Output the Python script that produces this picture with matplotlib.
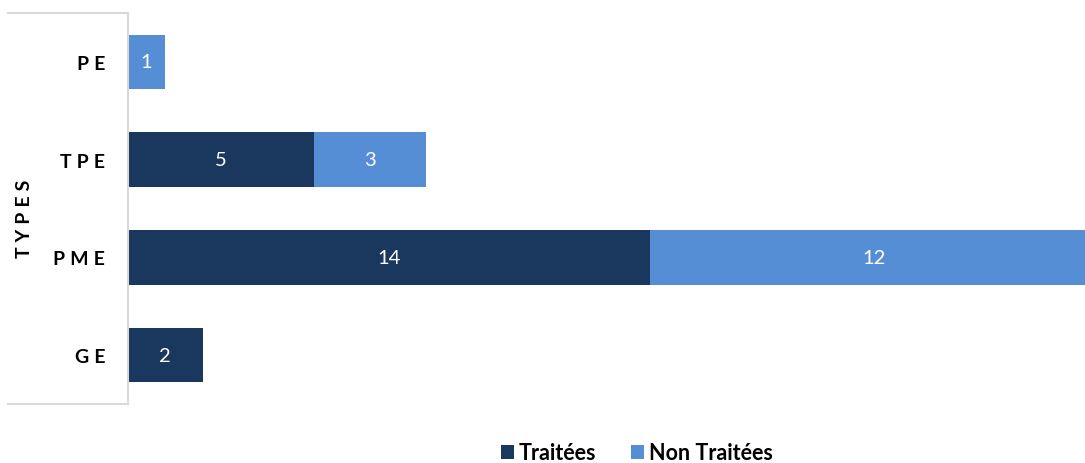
import matplotlib
matplotlib.use("Agg")
from matplotlib import pyplot as plt
from matplotlib.lines import Line2D
import numpy as np

plt.rcParams['font.family'] = ['Lato', 'DejaVu Sans']

# company types, top to bottom
types = ["PE", "TPE", "PME", "GE"]
traitees = [0, 5, 14, 2]
non_traitees = [1, 3, 12, 0]

DARK = '#1A375E'
LIGHT = '#558ED5'
GRID = '#D9D9D9'
SP = '\u2009'  # letter spacing for the category labels

fig = plt.figure(figsize=(10.85, 4.64), dpi=100)
ax = fig.add_axes([128 / 1085, 1 - 405 / 464, 1 - 128 / 1085, 391 / 464])

y = np.arange(len(types))
h = 0.56
b1 = ax.barh(y, traitees, h, color=DARK, label="Traitées")
b2 = ax.barh(y, non_traitees, h, left=traitees, color=LIGHT, label="Non Traitées")

for bars, vals in ((b1, traitees), (b2, non_traitees)):
    for rect, v in zip(bars, vals):
        if v == 0:
            continue
        ax.text(rect.get_x() + rect.get_width() / 2, rect.get_y() + rect.get_height() / 2,
                str(v), color='white', ha='center', va='center', fontsize=14.5)

ax.set_xlim(0, 25.66)
ax.set_ylim(len(types) - 0.5, -0.5)
ax.set_yticks(y)
ax.set_yticklabels([(SP * 2).join(t) for t in types], fontsize=14, fontweight='bold')
ax.tick_params(axis='y', length=0, pad=16.5)
ax.set_xticks([])
for s in ('top', 'right', 'bottom'):
    ax.spines[s].set_visible(False)
ax.spines['left'].set_color(GRID)
ax.spines['left'].set_linewidth(1.5)

# category box lines on the left
for yy in (14, 405):
    fig.add_artist(Line2D([8 / 1085, 128 / 1085], [1 - yy / 464, 1 - yy / 464],
                          color=GRID, lw=1.5))

fig.text(24 / 1085, 1 - 219 / 464, (SP * 2).join("TYPES"), rotation=90, ha='center',
         va='center', fontsize=14, fontweight='bold')

fig.legend(handles=[b1, b2], loc='center', bbox_to_anchor=(637 / 1085, 10 / 464), ncol=2,
           frameon=False, handlelength=0.6, handleheight=0.6, handletextpad=0.25,
           columnspacing=1.6, borderpad=0.2, prop={'size': 15.5, 'weight': 'bold'})

fig.savefig("out.png", dpi=100)
